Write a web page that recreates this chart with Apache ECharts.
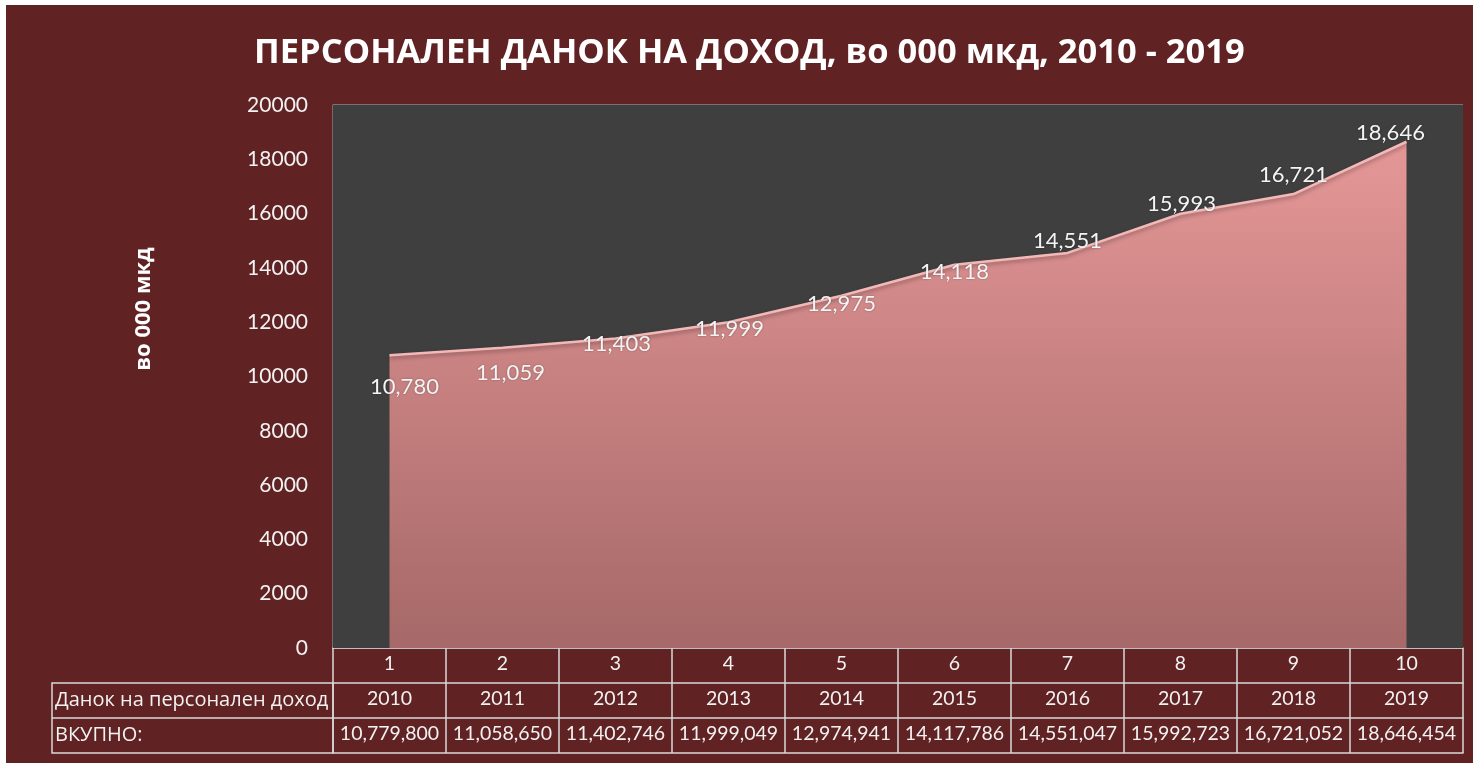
<!DOCTYPE html>
<html>
<head>
<meta charset="utf-8">
<script src="https://cdn.jsdelivr.net/npm/echarts@6/dist/echarts.min.js"></script>
<style>
html,body{margin:0;padding:0;background:#ffffff;}
#c{width:1473px;height:763px;}
</style>
</head>
<body>
<div id="c"></div>
<script>
const categories = ['1','2','3','4','5','6','7','8','9','10'];
const years = ['2010','2011','2012','2013','2014','2015','2016','2017','2018','2019'];
const totals = [10779800, 11058650, 11402746, 11999049, 12974941, 14117786, 14551047, 15992723, 16721052, 18646454];
const values = [10779.8, 11058.65, 11402.746, 11999.049, 12974.941, 14117.786, 14551.047, 15992.723, 16721.052, 18646.454];
const rowLabels = ['Данок на персонален доход', 'ВКУПНО:'];
const titleText = 'ПЕРСОНАЛЕН ДАНОК НА ДОХОД, во 000 мкд, 2010 - 2019';
const yName = 'во 000 мкд';
const yMin = 0, yMax = 20000, yStep = 2000;

// label offsets (style only)
const labelOffsets = [[15,32],[8,25],[1,5],[1,7],[0,8],[0,7],[0,-12],[1,-10],[0,-19],[-16,-9]];

const G = {left:333, right:10, top:105, bottom:115};
const W = 1473, H = 763;
const rowH = 35;
const border = '#d9d9d9';
const txt = '#f2f2f2';
const numFont = 'Lato, "Open Sans", sans-serif';
const cyrFont = '"Open Sans", "Noto Sans", sans-serif';

const fmt = v => Math.round(v).toLocaleString('en-US');

const chart = echarts.init(document.getElementById('c'), null, {renderer:'canvas'});

const gridBottomY = H - G.bottom;
const tableLeft = 52;

const xBase = (i, data, fmtFn, showTicks, showLabels) => ({
  type:'category', data: data, position:'bottom', offset: rowH*i,
  boundaryGap:true,
  axisLine:{show:true, lineStyle:{color:border, width:1.5}},
  axisTick:{show:showTicks, length:rowH, interval:0, lineStyle:{color:border, width:1.5}},
  axisLabel:{show:showLabels, interval:0, margin:6, fontSize:19.5, color:txt, fontFamily:numFont,
    formatter: fmtFn || (v=>v)},
  splitLine:{show:false}
});

const option = {
  backgroundColor:'#ffffff',
  animation:false,
  title:{
    text:titleText, left:249, top:31,
    textStyle:{color:'#ffffff', fontSize:34.5, fontWeight:'bold', fontFamily:cyrFont}
  },
  grid:{left:G.left, right:G.right, top:G.top, bottom:G.bottom, show:true,
    backgroundColor:'#3f3f3f', borderColor:'#3f3f3f', borderWidth:0, z:1},
  xAxis:[
    xBase(0, categories, null, true, true),
    xBase(1, years, null, true, true),
    xBase(2, totals, v=>fmt(+v), true, true),
    xBase(3, categories, null, false, false)
  ],
  yAxis:{
    type:'value', min:yMin, max:yMax, interval:yStep,
    axisLine:{show:true, lineStyle:{color:'#808080', width:1.5}},
    axisTick:{show:false},
    axisLabel:{margin:25, fontSize:21, color:txt, fontFamily:numFont, formatter:v=>String(v)},
    splitLine:{show:true, lineStyle:{color:'#8a8a8a', width:1.5}}
  },
  graphic:[
    {type:'rect', z:-10, silent:true, shape:{x:6, y:5, width:W-6, height:H-5}, style:{fill:'#612223'}},
    {type:'rect', z:10, silent:true, shape:{x:tableLeft, y:gridBottomY+rowH, width:G.left-tableLeft, height:rowH*2},
      style:{fill:'none', stroke:border, lineWidth:1.5}},
    {type:'line', z:10, silent:true, shape:{x1:tableLeft, y1:gridBottomY+rowH*2, x2:G.left, y2:gridBottomY+rowH*2},
      style:{stroke:border, lineWidth:1.5}},
    {type:'text', z:10, silent:true, x:tableLeft+3, y:gridBottomY+rowH*1.5,
      style:{text:rowLabels[0], fill:txt, font:'20px '+cyrFont, textVerticalAlign:'middle', verticalAlign:'middle'}},
    {type:'text', z:10, silent:true, x:tableLeft+3, y:gridBottomY+rowH*2.5,
      style:{text:rowLabels[1], fill:txt, font:'20px '+cyrFont, textVerticalAlign:'middle', verticalAlign:'middle'}},
    {type:'text', z:10, silent:true, x:144, y:309, rotation:Math.PI/2,
      style:{text:yName, fill:'#ffffff', font:'bold 22px '+cyrFont, align:'center', verticalAlign:'middle', textAlign:'center', textVerticalAlign:'middle'}}
  ],
  series:[{
    type:'line',
    data: values.map((v,i)=>({value:v, label:{offset:labelOffsets[i]}})),
    symbol:'circle', symbolSize:1, showSymbol:true,
    itemStyle:{color:'rgba(0,0,0,0)'},
    lineStyle:{color:'#f3b9b9', width:2.5, shadowColor:'rgba(0,0,0,0.35)', shadowBlur:4, shadowOffsetY:2},
    areaStyle:{
      color:new echarts.graphic.LinearGradient(0,0,0,1,[
        {offset:0, color:'#e59797'},
        {offset:1, color:'#a66868'}
      ]),
      opacity:1
    },
    label:{show:true, position:'inside', fontSize:22, color:'#f4f4f4', fontFamily:numFont,
      formatter:p=>fmt(p.value), textShadowColor:'rgba(0,0,0,0.35)', textShadowBlur:2},
    z:5
  }]
};
chart.setOption(option);
</script>
</body>
</html>
